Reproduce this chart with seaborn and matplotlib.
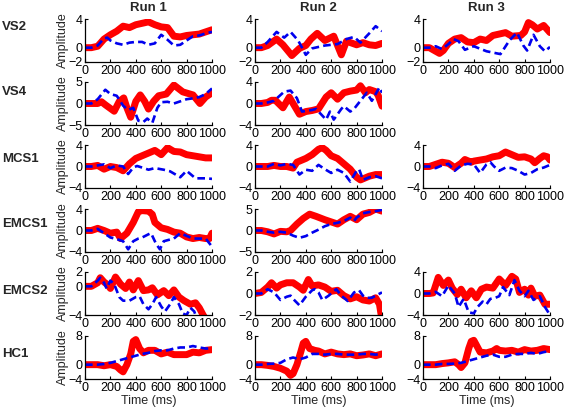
import matplotlib
matplotlib.use('Agg')
import pandas as pd
import matplotlib.pyplot as plt
import seaborn as sns

ROWS = ['VS2', 'VS4', 'MCS1', 'EMCS1', 'EMCS2', 'HC1']
RUNS = ['Run 1', 'Run 2', 'Run 3']
X_TICKS = [0, 200, 400, 600, 800, 1000]

# (time ms, amplitude); red = thick solid, blue = dashed
vs2_r1_red = [(0, 0), (50, 0), (100, 0.2), (150, 1.2), (200, 1.8), (250, 2.3), (300, 3.0), (350, 2.8),
              (400, 3.2), (450, 3.4), (500, 3.6), (550, 3.2), (600, 2.9), (650, 2.8), (700, 1.6),
              (750, 1.5), (800, 1.7), (850, 1.8), (900, 1.9), (950, 2.2), (1000, 2.5)]
vs2_r1_blue = [(0, 0), (50, 0), (100, 0.3), (150, 1.3), (175, 1.4), (200, 1.0), (250, 0.6), (300, 0.4),
               (350, 0.7), (400, 0.8), (450, 0.8), (500, 0.4), (550, 0.6), (600, 1.8), (650, 1.1),
               (700, 0.3), (750, 0.4), (800, 1.0), (850, 1.6), (900, 1.7), (950, 2.0), (1000, 2.2)]
vs2_r2_red = [(0, 0), (50, 0), (100, 0.3), (170, 1.2), (220, 0.4), (290, -1.1), (350, -0.1), (400, 0.3),
              (440, 1.2), (490, 2.0), (550, 1.0), (620, 1.6), (680, -1.0), (720, 0.9), (800, 0.4),
              (850, 0.7), (900, 0.4), (950, 0.3), (1000, 0.6)]
vs2_r2_blue = [(0, 0), (50, 0), (100, 0.8), (170, 2.2), (230, 1.4), (280, 2.2), (340, 1.0), (400, -1.0),
               (450, -0.1), (550, 0.3), (650, 0.5), (720, 1.2), (780, 1.5), (830, 0.7), (900, 2.0),
               (950, 3.0), (1000, 2.3)]
vs2_r3_red = [(0, 0), (50, 0), (100, -0.5), (130, -0.8), (160, -0.4), (200, 0.6), (250, 1.2), (300, 1.4),
              (350, 0.8), (400, 0.7), (450, 1.2), (500, 1.0), (550, 1.7), (600, 1.9), (650, 2.1),
              (700, 1.6), (770, 1.7), (800, 2.2), (830, 3.5), (860, 3.2), (900, 2.6), (950, 3.1),
              (1000, 2.1)]
vs2_r3_blue = [(0, 0), (50, 0), (100, 0.2), (150, -0.2), (200, 0.5), (240, 1.2), (280, 0.9), (330, -0.3),
               (400, 0.2), (500, -0.5), (610, -0.9), (680, 1.0), (740, 2.1), (790, 0.3), (820, -0.4),
               (870, 1.8), (920, 0.2), (960, -0.5), (1000, 0.1)]

vs4_r1_red = [(0, 0), (50, 0), (100, 0), (130, 0.4), (160, -0.3), (230, -1.8), (270, 0.5), (305, 1.3),
              (330, -1.0), (360, -3.2), (400, 0.5), (435, 2.0), (470, 0.5), (500, -1.3), (540, 0.5),
              (580, 1.8), (640, 2.2), (700, 4.3), (770, 2.7), (850, 2.0), (905, 0.0), (950, 1.5),
              (1000, 2.5)]
vs4_r1_blue = [(0, 0), (50, 0), (100, 1.0), (160, 3.2), (200, 2.2), (250, 1.8), (300, -0.5), (340, -1.5),
               (380, -1.0), (420, -4.0), (460, -4.3), (490, -3.5), (530, -4.5), (570, -1.0), (600, 0.3),
               (650, 0.4), (700, 0.0), (750, 0.5), (800, 1.0), (850, 1.2), (900, 1.5), (950, 2.2),
               (1000, 3.5)]
vs4_r2_red = [(0, 0), (50, 0), (100, 0.2), (130, 0.6), (160, 0.6), (220, -0.8), (270, 1.2), (350, -2.0),
              (400, -1.5), (450, -1.3), (500, -1.0), (560, 1.2), (600, 2.0), (650, 0.8), (700, 2.0),
              (750, 2.3), (800, 2.5), (830, 3.3), (870, 2.0), (900, 2.6), (950, 2.2), (970, 1.5),
              (1000, -0.5)]
vs4_r2_blue = [(0, 0), (50, 0), (100, 0.2), (150, 0.5), (230, 2.2), (280, 2.4), (330, 1.0), (370, -1.5),
               (450, -1.2), (480, -1.0), (520, -2.0), (560, -3.0), (590, -1.5), (620, -3.0), (680, -1.0),
               (700, -0.5), (750, -1.5), (780, -1.0), (830, 0.5), (880, 2.0), (920, 0.5), (980, 3.0),
               (1000, 2.0)]

mcs1_r1_red = [(0, 0), (50, 0), (100, 0.2), (150, -0.5), (200, 0), (250, -0.2), (300, -0.8), (350, 0.5),
               (400, 1.5), (450, 2.0), (500, 2.5), (550, 3.0), (600, 2.2), (650, 3.5), (700, 2.8),
               (750, 2.7), (800, 2.2), (850, 2.0), (900, 1.8), (950, 1.6), (1000, 1.6)]
mcs1_r1_blue = [(0, 0), (50, 0), (100, 0.2), (150, 0.4), (200, -0.3), (250, 0.2), (300, 0), (340, -1.4),
                (380, -0.2), (410, 0.1), (450, -0.2), (500, -0.6), (550, -0.3), (620, -0.6), (670, -0.9),
                (750, -2.0), (800, -0.8), (870, -2.2), (950, -2.2), (1000, -2.3)]
mcs1_r2_red = [(0, 0), (100, 0), (150, 0.2), (200, 0), (250, 0), (300, -0.3), (330, 0.8), (400, 1.5),
               (450, 2.2), (500, 3.2), (530, 3.5), (560, 3.0), (600, 2.0), (650, 1.5), (700, 0.5),
               (750, -0.5), (800, -2.0), (830, -2.5), (850, -2.3), (900, -1.8), (950, -1.5), (1000, -1.5)]
mcs1_r2_blue = [(0, 0), (100, 0), (150, 0.5), (200, 0.2), (250, 0.5), (300, 0.3), (350, -1.5), (400, -0.6),
                (450, -0.8), (500, 0.3), (550, -0.5), (600, -1.2), (650, -0.6), (700, -1.2), (750, -2.8),
                (800, -0.8), (820, -0.5), (850, -2.5), (900, -2.0), (950, -1.8), (1000, -2.2)]
mcs1_r3_red = [(0, 0), (50, 0), (100, 0.4), (150, 0.8), (200, 0.6), (250, -0.2), (300, 0.6), (330, 1.3),
               (380, 0.8), (400, 1.0), (450, 1.2), (500, 1.4), (550, 1.8), (600, 2.0), (650, 2.7),
               (700, 2.2), (750, 1.7), (800, 1.8), (850, 1.4), (880, 0.7), (920, 1.5), (950, 2.0),
               (980, 1.8), (1000, 1.2)]
mcs1_r3_blue = [(0, 0), (50, 0), (100, -0.3), (150, 0.2), (200, 0.5), (250, -0.8), (300, 0.2), (350, 0.5),
                (400, 0.4), (450, -1.2), (500, 0.4), (530, 0.8), (560, 0.0), (600, -0.8), (650, -0.2),
                (700, -0.3), (750, -0.8), (800, -1.5), (850, -1.2), (900, -0.5), (950, -0.2), (1000, 0.3)]

emcs1_r1_red = [(0, 0), (50, 0), (100, 0.4), (150, 0), (200, -0.5), (250, -0.3), (280, -1.5), (330, -0.5),
                (380, 1.5), (420, 3.5), (450, 3.7), (500, 3.6), (530, 3.0), (550, 1.5), (600, 0.5),
                (650, 0.2), (700, -0.3), (750, -0.5), (800, -1.2), (850, -1.5), (900, -1.3), (950, -1.5),
                (980, -1.5), (1000, -0.5)]
emcs1_r1_blue = [(0, 0), (50, 0), (100, 0.3), (150, -0.5), (200, -1.3), (250, -1.6), (300, -2.0),
                 (340, -3.5), (380, -2.0), (420, -1.5), (450, -1.3), (500, -0.7), (520, -0.5), (560, -2.5),
                 (590, -3.5), (620, -2.0), (650, -1.8), (700, -1.5), (750, -0.5), (800, -1.0), (850, -1.5),
                 (900, -1.5), (950, -1.5), (1000, -3.0)]
emcs1_r2_red = [(0, 0), (50, 0), (100, -0.3), (150, -0.8), (200, -0.2), (250, -0.3), (280, 0), (330, 1.5),
                (380, 2.8), (430, 3.8), (480, 3.3), (550, 2.5), (600, 2.0), (650, 1.5), (700, 2.5),
                (750, 3.3), (800, 2.5), (850, 3.8), (900, 4.2), (950, 5.0), (1000, 4.5)]
emcs1_r2_blue = [(0, 0), (50, 0), (100, -0.3), (150, -0.5), (200, -0.3), (250, -0.5), (300, -1.2),
                 (350, -1.7), (400, -1.3), (450, -0.5), (500, 0.2), (550, 1.0), (600, 1.5), (650, 1.8),
                 (700, 2.2), (750, 3.0), (780, 2.2), (800, 3.0), (850, 4.0), (900, 4.3), (950, 4.5),
                 (1000, 4.8)]

emcs2_r1_red = [(0, 0), (50, 0), (100, 0.5), (120, 1.2), (150, 0.6), (180, 0.2), (200, -0.3), (240, 1.3),
                (280, 0.3), (320, -0.3), (350, 0.6), (380, -0.5), (420, 0.8), (460, -0.6), (500, -0.5),
                (530, -0.2), (570, -1.2), (620, -0.6), (660, -1.3), (700, -0.5), (740, -1.5), (780, -2.0),
                (830, -2.5), (870, -2.3), (900, -3.0), (930, -4.0), (1000, -6.0)]
emcs2_r1_blue = [(0, 0), (50, 0), (100, 0.8), (120, 1.2), (150, 0.5), (170, -0.3), (200, 0.8), (230, 0.3),
                 (270, -1.5), (300, -2.0), (350, -2.0), (400, -1.5), (430, -1.4), (460, -2.5), (500, -3.2),
                 (530, -2.5), (560, -1.5), (600, -2.8), (630, -3.5), (670, -2.5), (700, -1.5), (740, -2.5),
                 (770, -3.8), (800, -4.0), (830, -3.0), (860, -3.5), (880, -4.5), (1000, -6.0)]
emcs2_r2_red = [(0, 0), (50, 0.1), (100, 0.6), (130, 1.0), (170, 0.5), (200, 0.8), (250, 1.0), (300, 1.0),
                (350, 0.6), (380, 0.3), (420, 1.3), (450, 0.7), (500, 0.8), (550, 0.6), (600, 0.2),
                (650, 0.3), (700, -0.2), (750, -0.5), (800, -0.3), (850, -0.6), (900, -0.7), (950, -0.4),
                (980, -1.0), (1000, -2.5)]
emcs2_r2_blue = [(0, 0), (50, 0), (100, 0.4), (150, 0.1), (200, -0.6), (250, -0.3), (280, -0.2), (300, -0.5),
                 (350, -1.1), (400, -0.3), (450, 0.3), (470, 0.4), (500, 0.1), (530, -0.6), (580, -0.2),
                 (640, 0.4), (680, -0.2), (730, -0.7), (780, 0.1), (820, 0.3), (850, -0.2), (880, -0.4),
                 (920, -0.4), (950, -0.2), (1000, 0.1)]
emcs2_r3_red = [(0, 0), (50, 0), (80, 0.1), (120, 3.0), (160, 1.5), (200, 2.5), (230, 1.0), (270, -0.2),
                (300, 0.8), (340, -0.8), (380, 0.5), (420, -0.8), (460, 0.8), (500, 1.2), (550, 1.0),
                (600, 2.7), (650, 1.5), (700, 3.2), (730, 2.7), (760, 0.2), (800, 0.8), (830, -0.3),
                (850, 1.0), (880, -0.5), (920, -0.3), (960, -2.0), (1000, -2.0)]
emcs2_r3_blue = [(0, 0), (50, 0), (100, 0.3), (150, -0.5), (200, 1.5), (250, 0), (280, -2.5), (320, -1.0),
                 (360, -3.5), (400, -3.7), (430, -2.5), (470, -1.5), (500, -2.0), (530, -1.0), (570, -0.8),
                 (600, -0.5), (630, 1.2), (680, -0.3), (720, 2.5), (760, 0.5), (800, -0.5), (830, 0.5),
                 (870, -1.2), (920, -0.5), (960, -2.5), (1000, -4.0)]

hc1_r1_red = [(0, 0), (50, 0), (100, 0), (150, -0.3), (200, 0), (250, -0.5), (280, -1.5), (300, -2.0),
              (330, 0), (360, 3.0), (380, 6.5), (400, 7.0), (430, 4.5), (460, 3.3), (500, 4.0), (550, 4.0),
              (600, 3.0), (650, 3.5), (700, 2.8), (750, 2.8), (800, 2.8), (850, 3.5), (900, 3.3),
              (950, 4.0), (1000, 4.2)]
hc1_r1_blue = [(0, 0), (50, 0), (100, 0), (150, 0.2), (200, 0.5), (250, 1.0), (300, 1.5), (350, 2.0),
               (400, 2.5), (450, 3.0), (500, 3.3), (550, 3.8), (600, 4.0), (650, 4.0), (700, 4.5),
               (750, 4.8), (800, 4.8), (850, 5.2), (900, 4.8), (950, 4.5), (1000, 4.5)]
hc1_r2_red = [(0, 0), (50, 0), (100, -0.2), (150, -0.5), (200, -1.0), (250, -1.8), (280, -3.0), (300, -2.5),
              (330, 0), (360, 3.5), (380, 6.0), (400, 6.5), (430, 4.5), (470, 4.0), (500, 3.8), (550, 3.0),
              (600, 3.5), (650, 3.0), (700, 2.8), (750, 3.0), (800, 2.5), (850, 2.7), (900, 3.0),
              (950, 2.5), (1000, 3.0)]
hc1_r2_blue = [(0, 0), (50, 0), (100, 0.2), (150, 0.3), (200, 0.5), (250, 1.5), (300, 2.0), (350, 1.5),
               (400, 2.0), (450, 3.0), (500, 3.0), (550, 2.8), (600, 3.0), (650, 3.0), (700, 2.8),
               (750, 2.8), (800, 2.8), (850, 3.0), (900, 3.0), (950, 2.8), (1000, 3.0)]
hc1_r3_red = [(0, 0), (50, 0), (100, 0), (150, 0.3), (200, 0.5), (250, 0.8), (280, 0), (300, -0.8),
              (330, 0.5), (360, 4.5), (380, 6.5), (400, 6.8), (420, 5.5), (450, 3.5), (500, 3.3), (550, 3.8),
              (580, 4.5), (600, 4.0), (650, 3.8), (700, 4.0), (750, 3.5), (800, 4.2), (850, 3.8),
              (900, 4.0), (950, 4.5), (1000, 4.2)]
hc1_r3_blue = [(0, 0), (50, 0), (100, 0), (150, 0.2), (200, 0.2), (250, 0.3), (300, 0.5), (350, 1.0),
               (400, 1.5), (450, 2.0), (500, 2.5), (550, 2.8), (600, 2.2), (650, 2.2), (700, 2.8),
               (750, 3.0), (800, 3.0), (850, 3.3), (900, 3.0), (950, 3.5), (1000, 3.8)]

# y tick labels shown for each panel (first/last are the limits)
panels = {
    (0, 0): (vs2_r1_red, vs2_r1_blue, [-2, 0, 4]),
    (0, 1): (vs2_r2_red, vs2_r2_blue, [-2, 0, 4]),
    (0, 2): (vs2_r3_red, vs2_r3_blue, [-2, 0, 4]),
    (1, 0): (vs4_r1_red, vs4_r1_blue, [-5, 0, 5]),
    (1, 1): (vs4_r2_red, vs4_r2_blue, [-4, 0, 4]),
    (2, 0): (mcs1_r1_red, mcs1_r1_blue, [-4, 0, 4]),
    (2, 1): (mcs1_r2_red, mcs1_r2_blue, [-4, 0, 4]),
    (2, 2): (mcs1_r3_red, mcs1_r3_blue, [-4, 0, 4]),
    (3, 0): (emcs1_r1_red, emcs1_r1_blue, [-4, 0, 4]),
    (3, 1): (emcs1_r2_red, emcs1_r2_blue, [-5, 0, 5]),
    (4, 0): (emcs2_r1_red, emcs2_r1_blue, [-4, 0, 2]),
    (4, 1): (emcs2_r2_red, emcs2_r2_blue, [-2, 0, 2]),
    (4, 2): (emcs2_r3_red, emcs2_r3_blue, [-4, 0, 4]),
    (5, 0): (hc1_r1_red, hc1_r1_blue, [-4, 0, 8]),
    (5, 1): (hc1_r2_red, hc1_r2_blue, [-4, 0, 8]),
    (5, 2): (hc1_r3_red, hc1_r3_blue, [-4, 0, 8]),
}

sns.set_style('ticks')
plt.rcParams['font.family'] = ['Liberation Sans', 'DejaVu Sans']
plt.rcParams['lines.scale_dashes'] = False

W, H = 566, 407
fig = plt.figure(figsize=(W / 100, H / 100), dpi=100)

col_left = [85, 255, 423]
row_top = [19, 82, 145, 209, 272, 336]
label_y = [27, 92, 159, 224, 291, 354]
ax_w, ax_h = 127, 43

for (r, c), (red, blue, yt) in panels.items():
    ax = fig.add_axes([col_left[c] / W, 1 - (row_top[r] + ax_h) / H, ax_w / W, ax_h / H])
    dr = pd.DataFrame(red, columns=['t', 'amp'])
    db = pd.DataFrame(blue, columns=['t', 'amp'])
    sns.lineplot(data=dr, x='t', y='amp', ax=ax, color='#ff0000', linewidth=5,
                 estimator=None, sort=False, solid_capstyle='round', solid_joinstyle='round')
    sns.lineplot(data=db, x='t', y='amp', ax=ax, color='#0000ee', linewidth=1.9,
                 estimator=None, sort=False, linestyle='--')
    ax.lines[-1].set_dashes([5.5, 3])
    ax.set_xlim(0, 1000)
    ax.set_ylim(yt[0], yt[-1])
    ax.set_xticks(X_TICKS)
    ax.set_yticks(yt)
    ax.set_xlabel('')
    ax.set_ylabel('')
    sns.despine(ax=ax)
    for s in ['left', 'bottom']:
        ax.spines[s].set_linewidth(0.9)
        ax.spines[s].set_color('black')
    ax.tick_params(direction='in', length=2.5, width=0.8, labelsize=9, pad=2, colors='black')
    if c == 0:
        fig.text(63 / W, 1 - (row_top[r] + ax_h / 2) / H, 'Amplitude', rotation=90,
                 ha='center', va='center', fontsize=9)
    if r == 0:
        ax.set_title(RUNS[c], fontsize=9.5, fontweight='bold', pad=6)
    if r == len(ROWS) - 1:
        ax.set_xlabel('Time (ms)', fontsize=9, labelpad=1)

for name, y in zip(ROWS, label_y):
    fig.text(2 / W, 1 - y / H, name, ha='left', va='center', fontsize=9.5, fontweight='bold')

fig.savefig('out.png', dpi=100)
